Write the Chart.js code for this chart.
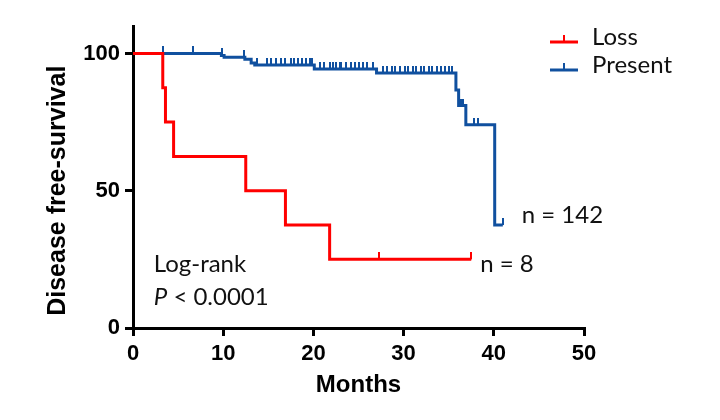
<!DOCTYPE html>
<html lang="en">
<head>
  <meta charset="UTF-8">
  <title>Disease free-survival: Loss vs Present</title>
  <script src="https://cdn.jsdelivr.net/npm/chart.js"></script>
  <style>
    html, body { margin: 0; padding: 0; background: #fff; }
    #wrap { width: 720px; height: 420px; }
  </style>
</head>
<body>
  <div id="wrap"><canvas id="kmChart" width="720" height="420"></canvas></div>

  <script>
    // Kaplan-Meier steps (months, % disease-free)
    const lossMonths   = [0, 3.3, 3.6, 4.5, 12.5, 16.9, 21.8, 37.5];
    const lossSurvival = [100, 87.5, 75, 62.5, 50, 37.5, 25, 25];
    const lossCensored = [27.3, 37.5];

    const presentMonths   = [0, 9.8, 10.1, 12.4, 13.1, 13.5, 20.1, 27.0, 35.8, 36.1, 36.9, 40.1, 41.0];
    const presentSurvival = [100, 99.3, 98.6, 97.9, 96.5, 95.8, 94.3, 92.9, 86.7, 81.0, 74.0, 37.5, 37.5];
    const presentCensored = [3.3, 6.7, 9.9, 12.3, 13.7, 14.9, 15.3, 15.8, 16.4, 16.9, 17.5, 17.9, 18.3,
      18.7, 19.2, 19.6, 19.9, 20.7, 21.2, 21.8, 22.2, 22.5, 22.9, 23.1, 23.6, 24.2, 24.6, 25.1, 25.5,
      25.9, 26.6, 27.7, 28.2, 28.7, 29.1, 29.6, 30.1, 30.5, 31.0, 31.4, 31.9, 32.3, 32.8, 33.2, 33.7,
      34.1, 34.6, 35.0, 35.4, 36.4, 36.6, 37.8, 38.2, 41.0];

    const seriesNames = ['Loss', 'Present'];
    const groupSizes  = ['n = 8', 'n = 142'];
    const xTicks = [0, 10, 20, 30, 40, 50];
    const yTicks = [0, 50, 100];

    const RED = '#ff0000';
    const BLUE = '#10509f';
    const noteFont = '24px Lato, "Open Sans", sans-serif';

    // value of the step curve at time t
    function survivalAt(months, surv, t) {
      let s = surv[0];
      for (let i = 0; i < months.length; i++) {
        if (months[i] <= t) s = surv[i];
      }
      return s;
    }

    // small upward tick used for censored patients
    function censorMark(color) {
      const c = document.createElement('canvas');
      c.width = 2;
      c.height = 14;
      const g = c.getContext('2d');
      g.fillStyle = color;
      g.fillRect(0, 0, 2, 7);
      return c;
    }

    const toPoints = (xs, ys) => xs.map((x, i) => ({ x: x, y: ys[i] }));
    const censorPoints = (cens, xs, ys) => cens.map(t => ({ x: t, y: survivalAt(xs, ys, t) }));

    // legend, annotations and y title drawn on top of the chart
    const overlay = {
      id: 'overlay',
      afterDraw(chart) {
        const ctx = chart.ctx;
        const xs = chart.scales.x, ys = chart.scales.y;
        ctx.save();

        // y axis title, centred on the 0-100 range
        ctx.font = 'bold 25px "Liberation Sans", Arial, sans-serif';
        ctx.fillStyle = '#000';
        ctx.textAlign = 'center';
        ctx.textBaseline = 'alphabetic';
        ctx.translate(65, (ys.getPixelForValue(0) + ys.getPixelForValue(100)) / 2);
        ctx.rotate(-Math.PI / 2);
        ctx.fillText('Disease free-survival', 0, 0);
        ctx.restore();

        ctx.save();
        ctx.font = noteFont;
        ctx.fillStyle = '#111';
        ctx.textAlign = 'left';
        ctx.textBaseline = 'alphabetic';

        // legend
        const colors = [RED, BLUE];
        const legendY = [42, 70];
        seriesNames.forEach((name, i) => {
          ctx.strokeStyle = colors[i];
          ctx.lineWidth = 3;
          ctx.beginPath();
          ctx.moveTo(550, legendY[i]);
          ctx.lineTo(578, legendY[i]);
          ctx.stroke();
          ctx.fillStyle = colors[i];
          ctx.fillRect(563, legendY[i] - 7, 2, 7);
          ctx.fillStyle = '#111';
          ctx.fillText(name, 592, legendY[i] + 3);
        });

        // group sizes next to the curve ends
        ctx.fillText(groupSizes[0], xs.getPixelForValue(38.5), ys.getPixelForValue(20.3));
        ctx.fillText(groupSizes[1], xs.getPixelForValue(43.1), ys.getPixelForValue(38.1));

        // log-rank result
        const lx = xs.getPixelForValue(2.3);
        ctx.fillText('Log-rank', lx, ys.getPixelForValue(20.3));
        const py = ys.getPixelForValue(8.2);
        ctx.font = 'italic ' + noteFont;
        ctx.fillText('P', lx, py);
        const pw = ctx.measureText('P').width;
        ctx.font = noteFont;
        ctx.fillText(' < 0.0001', lx + pw, py);
        ctx.restore();
      }
    };

    const config = {
      type: 'scatter',
      data: {
        datasets: [
          {
            label: seriesNames[0],
            data: toPoints(lossMonths, lossSurvival),
            showLine: true,
            stepped: true,
            borderColor: RED,
            borderWidth: 3,
            pointRadius: 0
          },
          {
            label: seriesNames[1],
            data: toPoints(presentMonths, presentSurvival),
            showLine: true,
            stepped: true,
            borderColor: BLUE,
            borderWidth: 3,
            pointRadius: 0
          },
          {
            label: seriesNames[0] + ' censored',
            data: censorPoints(lossCensored, lossMonths, lossSurvival),
            pointStyle: censorMark(RED),
            pointRadius: 3
          },
          {
            label: seriesNames[1] + ' censored',
            data: censorPoints(presentCensored, presentMonths, presentSurvival),
            pointStyle: censorMark(BLUE),
            pointRadius: 3
          }
        ]
      },
      options: {
        responsive: false,
        animation: false,
        layout: { padding: { left: 0, right: 136, top: 26, bottom: 0 } },
        plugins: {
          legend: { display: false },
          tooltip: { enabled: false }
        },
        scales: {
          x: {
            type: 'linear',
            min: 0,
            max: 50,
            afterBuildTicks: s => { s.ticks = xTicks.map(v => ({ value: v })); },
            afterFit: s => { s.height = 92; },
            grid: { drawOnChartArea: false, color: '#000', lineWidth: 3, tickLength: 8 },
            border: { color: '#000', width: 3 },
            ticks: { color: '#000', padding: 5, font: { family: '"Liberation Sans", Arial, sans-serif', size: 22, weight: 'bold' } },
            title: {
              display: true,
              text: 'Months',
              color: '#000',
              padding: { top: 0, bottom: 20 },
              font: { family: '"Liberation Sans", Arial, sans-serif', size: 24, weight: 'bold' }
            }
          },
          y: {
            min: 0,
            max: 110,
            afterBuildTicks: s => { s.ticks = yTicks.map(v => ({ value: v })); },
            afterFit: s => { s.width = 133; },
            grid: { drawOnChartArea: false, color: '#000', lineWidth: 3, tickLength: 8 },
            border: { color: '#000', width: 3 },
            ticks: { color: '#000', padding: 5, font: { family: '"Liberation Sans", Arial, sans-serif', size: 22, weight: 'bold' } }
          }
        }
      },
      plugins: [overlay]
    };

    new Chart(document.getElementById('kmChart'), config);
  </script>
</body>
</html>
